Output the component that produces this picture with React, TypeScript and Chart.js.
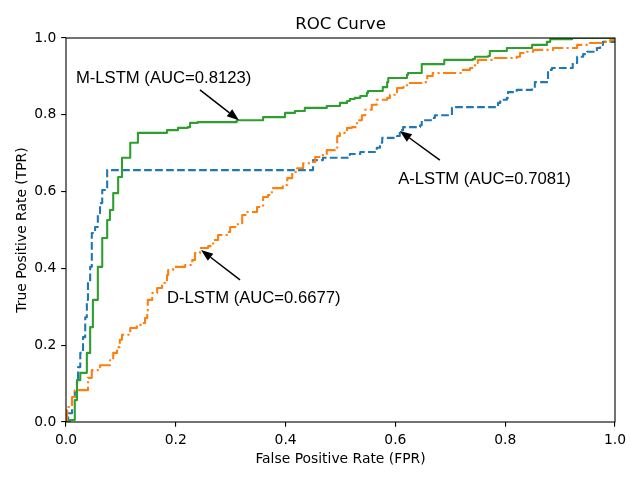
import { useEffect, useRef } from "react";
import { Chart, registerables } from "chart.js";

Chart.register(...registerables);

const chartTitle = "ROC Curve";
const xAxisLabel = "False Positive Rate (FPR)";
const yAxisLabel = "True Positive Rate (TPR)";
const tickValues = [0, 0.2, 0.4, 0.6, 0.8, 1.0];

const seriesNames = ["M-LSTM", "D-LSTM", "A-LSTM"];
const aucValues = ["0.8123", "0.6677", "0.7081"];

const mLstmFpr = [0, 0.004, 0.007, 0.016, 0.02, 0.026, 0.038, 0.044, 0.049, 0.058, 0.066, 0.075, 0.08, 0.086, 0.095, 0.102, 0.102, 0.117, 0.117, 0.126, 0.131, 0.184, 0.204, 0.222, 0.226, 0.24, 0.311, 0.359, 0.359, 0.399, 0.399, 0.417, 0.417, 0.435, 0.435, 0.475, 0.475, 0.499, 0.499, 0.512, 0.517, 0.526, 0.536, 0.548, 0.55, 0.576, 0.577, 0.585, 0.587, 0.605, 0.621, 0.623, 0.647, 0.648, 0.687, 0.689, 0.741, 0.745, 0.769, 0.772, 0.8, 0.803, 0.849, 0.849, 0.872, 0.876, 0.882, 0.922, 1];
const mLstmTpr = [0, 0, 0.005, 0.057, 0.109, 0.128, 0.18, 0.247, 0.318, 0.404, 0.479, 0.526, 0.552, 0.596, 0.638, 0.656, 0.688, 0.695, 0.727, 0.727, 0.753, 0.76, 0.766, 0.768, 0.779, 0.781, 0.786, 0.789, 0.794, 0.794, 0.805, 0.805, 0.81, 0.81, 0.818, 0.818, 0.823, 0.823, 0.831, 0.836, 0.841, 0.844, 0.849, 0.857, 0.862, 0.862, 0.872, 0.885, 0.896, 0.896, 0.904, 0.909, 0.909, 0.932, 0.932, 0.943, 0.945, 0.951, 0.953, 0.966, 0.966, 0.974, 0.974, 0.982, 0.982, 0.99, 0.997, 1, 1];

const aLstmFpr = [0, 0.002, 0.004, 0.011, 0.016, 0.02, 0.022, 0.026, 0.031, 0.035, 0.038, 0.04, 0.044, 0.047, 0.053, 0.058, 0.062, 0.066, 0.066, 0.075, 0.075, 0.448, 0.45, 0.468, 0.514, 0.517, 0.536, 0.566, 0.572, 0.576, 0.603, 0.608, 0.614, 0.645, 0.648, 0.668, 0.672, 0.699, 0.703, 0.705, 0.787, 0.791, 0.803, 0.805, 0.821, 0.849, 0.854, 0.876, 0.878, 0.885, 0.922, 0.923, 0.931, 0.942, 0.949, 0.964, 0.967, 0.973, 0.978, 0.996, 1];
const aLstmTpr = [0, 0, 0.023, 0.065, 0.078, 0.104, 0.143, 0.18, 0.221, 0.273, 0.318, 0.362, 0.404, 0.492, 0.508, 0.544, 0.57, 0.586, 0.604, 0.604, 0.656, 0.656, 0.682, 0.688, 0.688, 0.698, 0.703, 0.714, 0.727, 0.74, 0.745, 0.76, 0.768, 0.773, 0.786, 0.792, 0.799, 0.799, 0.818, 0.82, 0.831, 0.839, 0.844, 0.859, 0.865, 0.87, 0.885, 0.885, 0.917, 0.922, 0.922, 0.935, 0.951, 0.958, 0.964, 0.964, 0.974, 0.982, 0.99, 0.99, 1];

const dLstmFpr = [0, 0.002, 0.004, 0.011, 0.016, 0.035, 0.04, 0.047, 0.058, 0.062, 0.071, 0.08, 0.086, 0.093, 0.098, 0.102, 0.117, 0.129, 0.138, 0.144, 0.148, 0.149, 0.157, 0.166, 0.175, 0.184, 0.186, 0.195, 0.217, 0.23, 0.235, 0.244, 0.259, 0.268, 0.277, 0.293, 0.299, 0.313, 0.321, 0.33, 0.348, 0.359, 0.368, 0.375, 0.395, 0.403, 0.412, 0.421, 0.432, 0.448, 0.454, 0.468, 0.475, 0.49, 0.494, 0.499, 0.512, 0.521, 0.53, 0.539, 0.545, 0.557, 0.566, 0.585, 0.59, 0.599, 0.603, 0.614, 0.621, 0.65, 0.658, 0.668, 0.718, 0.723, 0.736, 0.745, 0.75, 0.781, 0.821, 0.827, 0.84, 0.851, 0.887, 0.918, 0.931, 0.954, 0.976, 0.991, 1];
const dLstmTpr = [0, 0.031, 0.039, 0.065, 0.083, 0.083, 0.115, 0.135, 0.143, 0.148, 0.148, 0.161, 0.18, 0.195, 0.214, 0.227, 0.245, 0.253, 0.258, 0.271, 0.284, 0.318, 0.336, 0.349, 0.362, 0.383, 0.396, 0.404, 0.409, 0.422, 0.44, 0.453, 0.458, 0.474, 0.487, 0.495, 0.508, 0.518, 0.539, 0.547, 0.56, 0.586, 0.591, 0.609, 0.617, 0.635, 0.651, 0.661, 0.674, 0.677, 0.69, 0.695, 0.708, 0.714, 0.745, 0.753, 0.766, 0.768, 0.786, 0.799, 0.813, 0.826, 0.839, 0.844, 0.852, 0.859, 0.87, 0.872, 0.883, 0.885, 0.901, 0.909, 0.909, 0.917, 0.922, 0.935, 0.943, 0.948, 0.951, 0.961, 0.964, 0.969, 0.974, 0.974, 0.982, 0.987, 0.99, 0.995, 1];

// annotation anchors in data coordinates: text baseline-left, arrow tail, arrow tip
const annTextPos = [[0.018, 0.884], [0.184, 0.311], [0.605, 0.621]];
const annTail = [[0.244, 0.865], [0.317, 0.37], [0.681, 0.682]];
const annTip = [[0.315, 0.786], [0.246, 0.448], [0.608, 0.758]];

const toPoints = (xs: number[], ys: number[]) => xs.map((x, i) => ({ x, y: ys[i] }));

const overlayPlugin = {
  id: "overlay",
  afterDraw(chart: any) {
    const { ctx, chartArea: a, scales } = chart;
    const xs = scales.x;
    const ys = scales.y;
    ctx.save();
    // spines
    ctx.strokeStyle = "#000";
    ctx.lineWidth = 1.1;
    ctx.strokeRect(a.left, a.top, a.right - a.left, a.bottom - a.top);
    ctx.fillStyle = "#000";
    ctx.textAlign = "center";
    ctx.textBaseline = "alphabetic";
    ctx.font = "16.67px 'DejaVu Sans'";
    ctx.fillText(chartTitle, (a.left + a.right) / 2, a.top - 9);
    ctx.font = "13.89px 'DejaVu Sans'";
    ctx.fillText(xAxisLabel, (a.left + a.right) / 2, a.bottom + 41);
    ctx.save();
    ctx.translate(a.left - 40, (a.top + a.bottom) / 2);
    ctx.rotate(-Math.PI / 2);
    ctx.fillText(yAxisLabel, 0, 0);
    ctx.restore();

    // annotations
    ctx.font = "16.67px 'Liberation Sans'";
    ctx.textAlign = "left";
    for (let i = 0; i < seriesNames.length; i++) {
      const label = `${seriesNames[i]} (AUC=${aucValues[i]})`;
      const tx = xs.getPixelForValue(annTextPos[i][0]);
      const ty = ys.getPixelForValue(annTextPos[i][1]);
      ctx.fillText(label, tx, ty);
      const x0 = xs.getPixelForValue(annTail[i][0]);
      const y0 = ys.getPixelForValue(annTail[i][1]);
      const x1 = xs.getPixelForValue(annTip[i][0]);
      const y1 = ys.getPixelForValue(annTip[i][1]);
      const ang = Math.atan2(y1 - y0, x1 - x0);
      const hl = 12;
      const hw = 4.5;
      const bx = x1 - hl * Math.cos(ang);
      const by = y1 - hl * Math.sin(ang);
      ctx.beginPath();
      ctx.lineWidth = 1.5;
      ctx.moveTo(x0, y0);
      ctx.lineTo(bx, by);
      ctx.stroke();
      ctx.beginPath();
      ctx.moveTo(x1, y1);
      ctx.lineTo(bx + hw * Math.sin(ang), by - hw * Math.cos(ang));
      ctx.lineTo(bx - hw * Math.sin(ang), by + hw * Math.cos(ang));
      ctx.closePath();
      ctx.fill();
    }
    ctx.restore();
  },
};

const tickFont = { family: "'DejaVu Sans'", size: 13.89 };

export default function App() {
  const canvasRef = useRef<HTMLCanvasElement | null>(null);

  useEffect(() => {
    if (!canvasRef.current) return;
    const commonScale = (fitKey: "width" | "height", fitVal: number) => ({
      type: "linear" as const,
      min: 0,
      max: 1,
      afterBuildTicks: (s: any) => {
        s.ticks = tickValues.map((v) => ({ value: v }));
      },
      afterFit: (s: any) => {
        s[fitKey] = fitVal;
      },
      ticks: {
        callback: (v: any) => Number(v).toFixed(1),
        color: "#000",
        font: tickFont,
        padding: 4.86,
        maxRotation: 0,
        autoSkip: false,
      },
      grid: {
        display: true,
        drawOnChartArea: false,
        drawTicks: true,
        tickLength: 4.86,
        color: "#000",
        lineWidth: 1.1,
      },
      border: { display: false },
    });

    const chart = new Chart(canvasRef.current, {
      type: "line",
      data: {
        datasets: [
          {
            label: seriesNames[0],
            data: toPoints(mLstmFpr, mLstmTpr),
            borderColor: "#2ca02c",
            borderWidth: 2.08,
            pointRadius: 0,
            stepped: "before",
            fill: false,
            clip: 0,
            borderJoinStyle: "round",
          },
          {
            label: seriesNames[1],
            data: toPoints(dLstmFpr, dLstmTpr),
            borderColor: "#ff7f0e",
            borderWidth: 2.08,
            borderDash: [13.3, 3.3, 2.1, 3.3],
            pointRadius: 0,
            stepped: "before",
            fill: false,
            clip: 0,
            borderJoinStyle: "round",
          },
          {
            label: seriesNames[2],
            data: toPoints(aLstmFpr, aLstmTpr),
            borderColor: "#1f77b4",
            borderWidth: 2.08,
            borderDash: [7.7, 3.3],
            pointRadius: 0,
            stepped: "before",
            fill: false,
            clip: 0,
            borderJoinStyle: "round",
          },
        ],
      },
      options: {
        animation: false,
        responsive: false,
        devicePixelRatio: 1,
        layout: { padding: { top: 38, right: 25, left: 0, bottom: 0 } },
        plugins: {
          legend: { display: false },
          tooltip: { enabled: false },
          title: { display: false },
        },
        scales: {
          x: commonScale("height", 58) as any,
          y: commonScale("width", 66) as any,
        },
      } as any,
      plugins: [overlayPlugin],
    });
    return () => chart.destroy();
  }, []);

  return (
    <div style={{ position: "absolute", left: 0, top: 0, width: 640, height: 480, background: "#fff" }}>
      <canvas ref={canvasRef} width={640} height={480} style={{ width: 640, height: 480 }} />
    </div>
  );
}
